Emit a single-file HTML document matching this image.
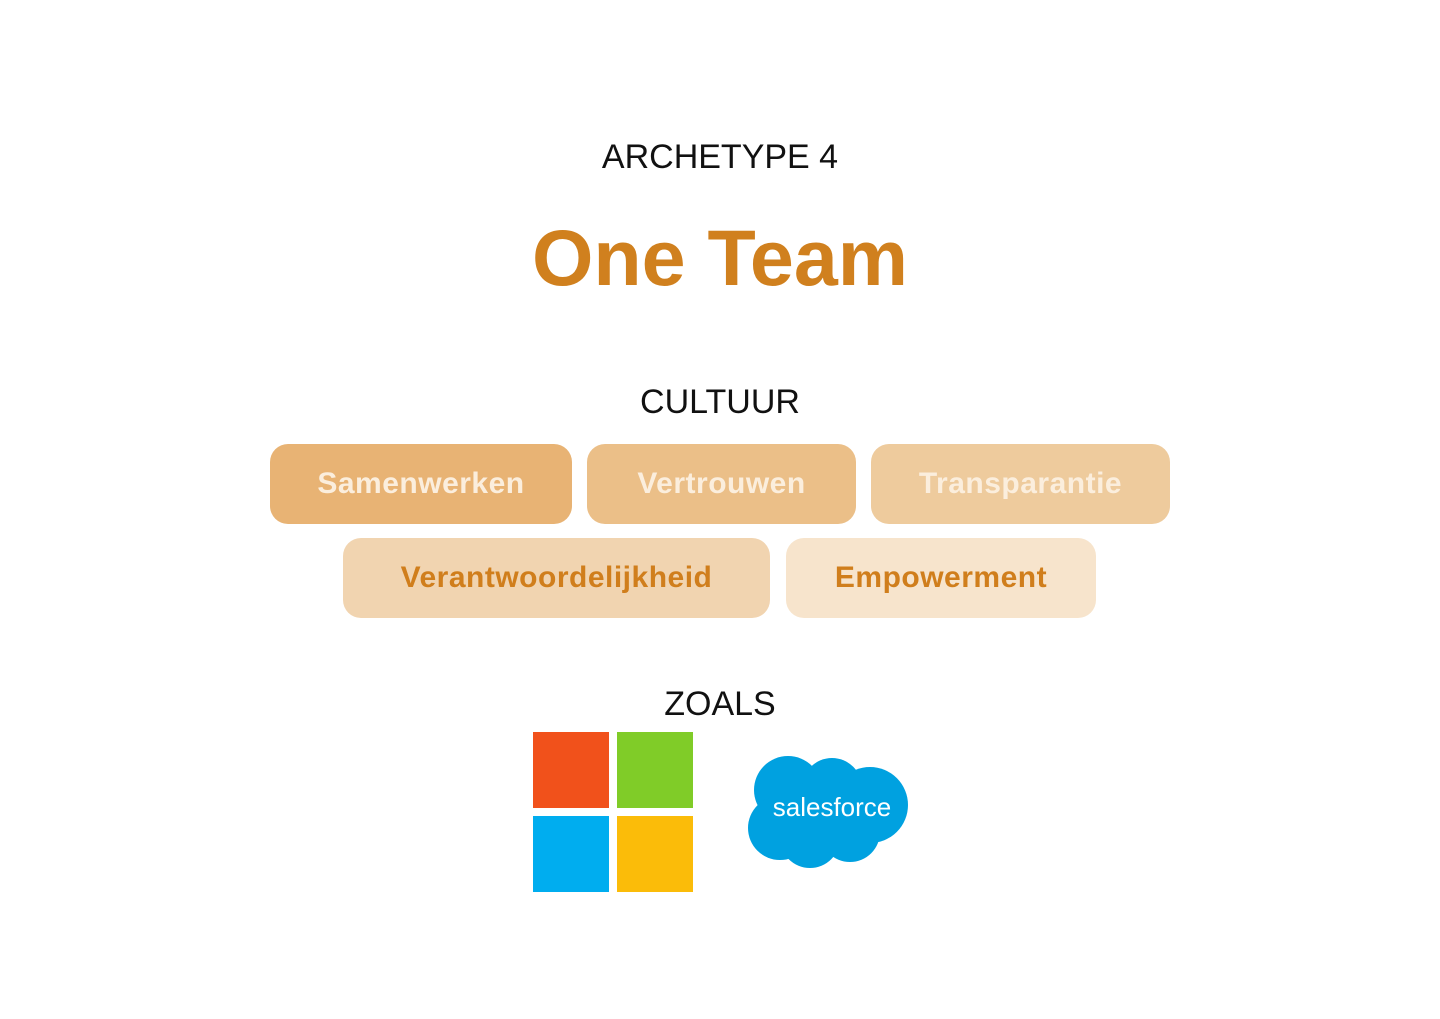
<!DOCTYPE html>
<html><head><meta charset="utf-8"><style>
body{margin:0;width:1440px;height:1019px;background:#fff;position:relative;font-family:"Liberation Sans",sans-serif;overflow:hidden}
.t{position:absolute;left:0;width:1440px;text-align:center;color:#111}
.b{position:absolute;border-radius:18px;display:flex;align-items:center;justify-content:center;font-weight:bold;font-size:30px;letter-spacing:0.5px}
.sq{position:absolute;width:76px;height:76px}
</style></head><body>
<div class="t" style="top:138px;font-size:34px;">ARCHETYPE 4</div>
<div class="t" style="top:212px;font-size:79px;font-weight:bold;color:#d0801e;">One Team</div>
<div class="t" style="top:383px;font-size:34px;">CULTUUR</div>
<div class="b" style="left:270px;top:444px;width:302px;height:80px;background:#e8b374;color:#fbeedd">Samenwerken</div>
<div class="b" style="left:587px;top:444px;width:269px;height:80px;background:#ebbf88;color:#fbeedd">Vertrouwen</div>
<div class="b" style="left:871px;top:444px;width:299px;height:80px;background:#eecb9d;color:#fbeedd">Transparantie</div>
<div class="b" style="left:343px;top:538px;width:427px;height:80px;background:#f1d4b0;color:#d07e1c">Verantwoordelijkheid</div>
<div class="b" style="left:786px;top:538px;width:310px;height:80px;background:#f7e4cc;color:#d07e1c">Empowerment</div>
<div class="t" style="top:685px;font-size:34px;">ZOALS</div>
<div class="sq" style="left:533px;top:732px;background:#f1511b"></div>
<div class="sq" style="left:617px;top:732px;background:#80cc28"></div>
<div class="sq" style="left:533px;top:816px;background:#00adef"></div>
<div class="sq" style="left:617px;top:816px;background:#fbbc09"></div>
<svg style="position:absolute;left:740px;top:750px" width="180" height="125">
<g fill="#00a1e0">
<circle cx="48" cy="40" r="34"/><circle cx="92" cy="38" r="30"/><circle cx="130" cy="55" r="38"/>
<circle cx="40" cy="78" r="32"/><circle cx="70" cy="88" r="30"/><circle cx="110" cy="82" r="30"/>
<rect x="30" y="40" width="110" height="50"/>
</g>
<text x="92" y="66" text-anchor="middle" fill="#fff" font-family="Liberation Sans,sans-serif" font-size="26">salesforce</text>
</svg>
</body></html>
